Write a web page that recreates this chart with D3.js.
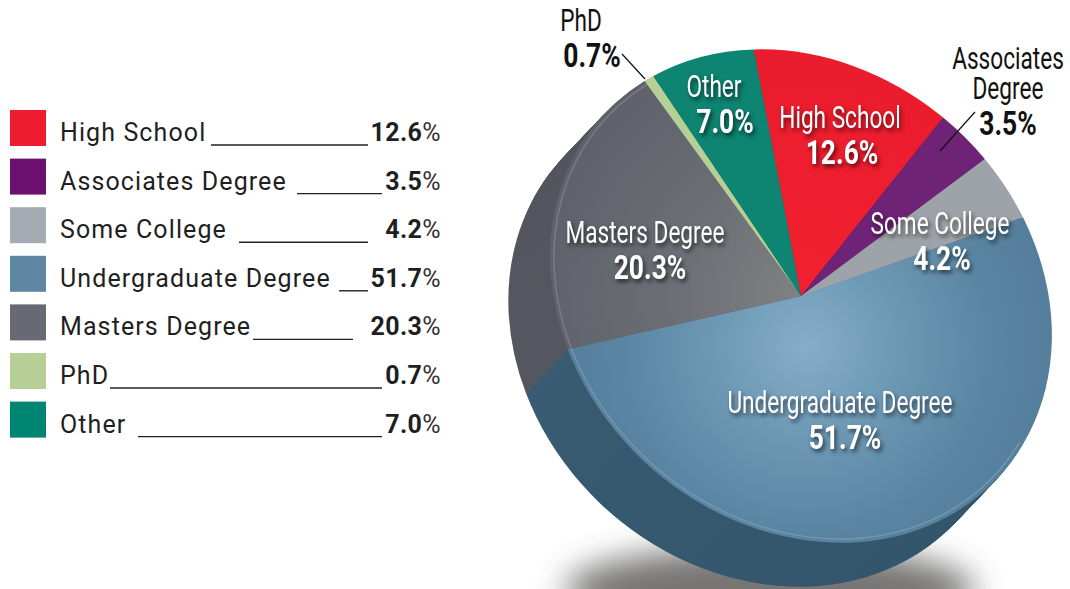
<!DOCTYPE html>
<html>
<head>
<meta charset="utf-8">
<script src="https://cdn.jsdelivr.net/npm/d3@7"></script>
<style>
  html, body { margin: 0; background: #fff; }
  svg { display: block; }
  .legend text { font-family: Roboto, sans-serif; font-size: 25px; letter-spacing: 1.1px; fill: #1f1f1f; }
  .legend .val { letter-spacing: 0.4px; }
  .call text { font-family: Roboto, sans-serif; font-size: 31px; text-anchor: middle; }
  .call .num { font-weight: bold; font-size: 33px; }
</style>
</head>
<body>
<script>
var categories = ["High School", "Associates Degree", "Some College", "Undergraduate Degree", "Masters Degree", "PhD", "Other"];
var shares = [12.6, 3.5, 4.2, 51.7, 20.3, 0.7, 7.0];
var swatchColors = ["#ee1c2e", "#6d1170", "#a5abb3", "#5f87a3", "#676a72", "#b6cf97", "#008573"];
var wallColors = ["#a81522", "#4d1650", "#70747a", "url(#wallBlue)", "#55575f", "#55575f", "#0a5a4e"];

// leader rule under each legend row, [from, to] in px
var leaders = [[211, 368], [297, 382], [239, 368], [339, 368], [253, 353], [110, 382], [138, 382]];

// text put on the pie: name lines, then the value. x, y of the first baseline
var callouts = [
  {i: 0, lines: ["High School"], x: 840, y: 128, numX: 842, fill: "#fff"},
  {i: 1, lines: ["Associates", "Degree"], x: 1008, y: 69, numX: 1008, fill: "#111"},
  {i: 2, lines: ["Some College"], x: 940, y: 234, numX: 942, fill: "#fff"},
  {i: 3, lines: ["Undergraduate Degree"], x: 840, y: 413, numX: 845, fill: "#fff"},
  {i: 4, lines: ["Masters Degree"], x: 645, y: 243, numX: 650, fill: "#fff"},
  {i: 5, lines: ["PhD"], x: 581, y: 31, numX: 592, fill: "#111"},
  {i: 6, lines: ["Other"], x: 714, y: 97, numX: 725, fill: "#fff"}
];

var width = 1070, height = 589;
var cx = 801, cy = 296;
var longR = 268, shortR = 228, tilt = -48;   // the tilted disc is an ellipse
var depth = 44;
var squeeze = 0.73, numSqueeze = 0.8;        // no condensed face installed, so narrow the text

var svg = d3.select("body").append("svg").attr("width", width).attr("height", height);
var defs = svg.append("defs");

// gradients are given in px from the pie centre and mapped into the disc's unit space
var toDisc = "scale(" + (100 / shortR) + "," + (100 / longR) + ") rotate(" + (-tilt) + ")";

function radial(id, x, y, r, stops) {
  var g = defs.append("radialGradient").attr("id", id).attr("gradientUnits", "userSpaceOnUse")
    .attr("gradientTransform", toDisc).attr("cx", x).attr("cy", y).attr("r", r);
  stops.forEach(function(s) { g.append("stop").attr("offset", s[0]).attr("stop-color", s[1]); });
}
radial("topBlue", 5, 50, 270, [[0, "#85aec8"], [0.35, "#6c98b4"], [0.7, "#5a85a2"], [1, "#527c99"]]);
radial("topGray", 0, 0, 260, [[0, "#7f8183"], [0.5, "#6b6e74"], [1, "#5f626a"]]);
radial("topRed", 0, 0, 260, [[0, "#f2202f"], [1, "#e91c2d"]]);
radial("wallBlue", -60, -60, 340, [[0, "#3d6c8b"], [0.7, "#37596f"], [1, "#33566c"]]);

var blur = defs.append("filter").attr("id", "soft").attr("x", "-30%").attr("y", "-60%").attr("width", "160%").attr("height", "220%");
blur.append("feGaussianBlur").attr("stdDeviation", 16);

svg.append("ellipse").attr("cx", 770).attr("cy", 590).attr("rx", 205).attr("ry", 44)
  .attr("fill", "#4a4744").attr("opacity", 0.75).attr("filter", "url(#soft)");

// start angle is in the disc's own frame, so it carries the tilt
var start = (-6.3 - tilt) * Math.PI / 180;
var pie = d3.pie().sort(null).value(function(d) { return d; })
  .startAngle(start).endAngle(start + 2 * Math.PI);
var slices = pie(shares);
var arc = d3.arc().innerRadius(0).outerRadius(100);
var rim = d3.arc().innerRadius(98.2).outerRadius(98.8);

function discTransform(dx, dy) {
  return "translate(" + (cx + dx) + "," + (cy + dy) + ") rotate(" + tilt + ") scale(" + (shortR / 100) + "," + (longR / 100) + ")";
}

// side wall: the same slices stacked along the extrusion direction
var wall = svg.append("g");
d3.range(depth, 0, -1).forEach(function(step) {
  wall.append("g").attr("transform", discTransform(-step * 0.95, step))
    .selectAll("path").data(slices).join("path")
    .attr("d", arc)
    .attr("fill", function(d, i) { return wallColors[i]; });
});

var topFills = ["url(#topRed)", "#6f2377", "#9ea3a9", "url(#topBlue)", "url(#topGray)", "#b5cf97", "#0e8472"];
var disc = svg.append("g").attr("transform", discTransform(0, 0));
disc.selectAll("path.top").data(slices).join("path").attr("class", "top")
  .attr("d", arc)
  .attr("fill", function(d, i) { return topFills[i]; });

// light bevel only on the rim that faces the wall
var under = slices[3], masters = slices[4];
var rimSpans = [
  {startAngle: under.startAngle + 0.3 * (under.endAngle - under.startAngle), endAngle: under.endAngle},
  {startAngle: masters.startAngle, endAngle: masters.endAngle}
];
disc.selectAll("path.rim").data(rimSpans).join("path").attr("class", "rim")
  .attr("d", rim)
  .attr("fill", "#fff").attr("opacity", 0.16);

// callouts
var call = svg.append("g").attr("class", "call");
function narrowText(g, x, y, fill, str, k, cls) {
  g.append("text").attr("class", cls || null)
    .attr("transform", "translate(" + x + "," + y + ") scale(" + k + ",1)")
    .attr("fill", fill).text(str);
}
callouts.forEach(function(c) {
  var g = call.append("g");
  if (c.fill === "#fff") g.style("filter", "drop-shadow(2px 3px 2px rgba(0,0,0,0.6))");
  c.lines.forEach(function(line, k) {
    narrowText(g, c.x, c.y + k * 30, c.fill, line, squeeze);
  });
  narrowText(g, c.numX, c.y + (c.lines.length - 1) * 30 + 36, c.fill, shares[c.i].toFixed(1) + "%", numSqueeze, "num");
});

svg.append("line").attr("x1", 622).attr("y1", 54).attr("x2", 645).attr("y2", 79).attr("stroke", "#111").attr("stroke-width", 1.2);
svg.append("line").attr("x1", 975).attr("y1", 112).attr("x2", 940).attr("y2", 151).attr("stroke", "#111").attr("stroke-width", 1.2);

// legend
var rowY = d3.scaleBand().domain(categories).range([110, 110 + 48.6 * categories.length]);
var legend = svg.append("g").attr("class", "legend");
var rows = legend.selectAll("g").data(categories).join("g")
  .attr("transform", function(d) { return "translate(0," + rowY(d) + ")"; });
rows.append("rect").attr("x", 10).attr("width", 36).attr("height", 36)
  .attr("fill", function(d, i) { return swatchColors[i]; });
rows.append("text").attr("x", 60).attr("y", 31).text(function(d) { return d; });
rows.append("line")
  .attr("x1", function(d, i) { return leaders[i][0]; })
  .attr("x2", function(d, i) { return leaders[i][1]; })
  .attr("y1", 35).attr("y2", 35).attr("stroke", "#222").attr("stroke-width", 1.4);
var vals = rows.append("text").attr("class", "val").attr("x", 441).attr("y", 31).attr("text-anchor", "end");
vals.append("tspan").attr("font-weight", "bold").text(function(d, i) { return shares[i].toFixed(1); });
vals.append("tspan").attr("fill", "#333").text("%");
</script>
</body>
</html>
